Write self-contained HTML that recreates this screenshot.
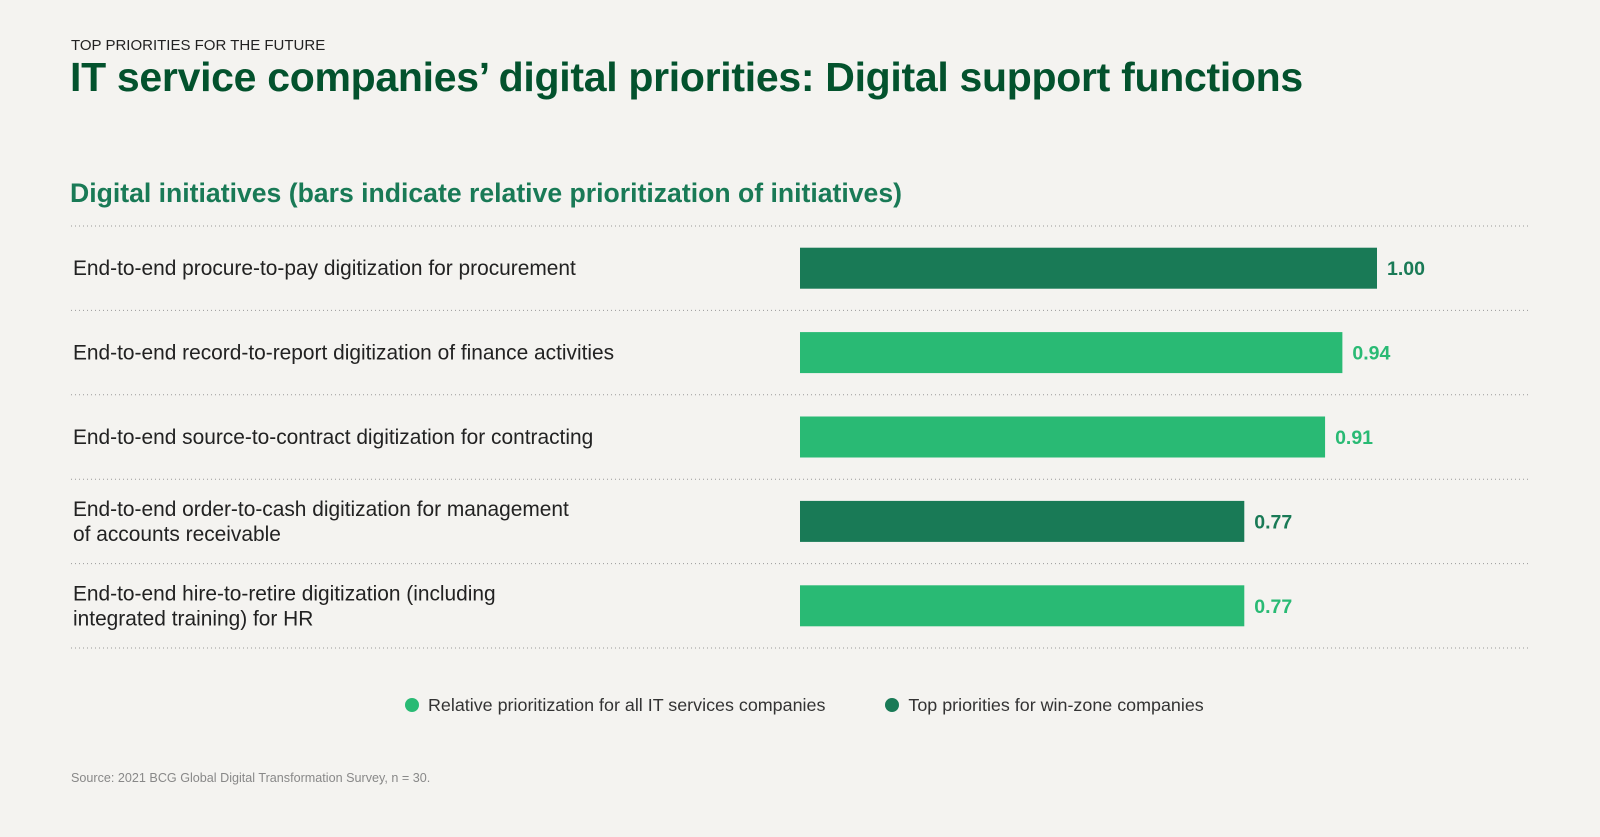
<!DOCTYPE html>
<html><head><meta charset="utf-8"><style>
body{margin:0;width:1600px;height:837px;background:#f4f3f0;font-family:"Liberation Sans",sans-serif;position:relative;overflow:hidden}
.t{position:absolute;white-space:nowrap}
</style></head><body>
<div class="t" style="left:71px;top:37px;font-size:15px;color:#222">TOP PRIORITIES FOR THE FUTURE</div>
<div class="t" style="left:70px;top:54px;font-size:41px;font-weight:bold;color:#03522d;letter-spacing:-0.3px">IT service companies’ digital priorities: Digital support functions</div>
<div class="t" style="left:70px;top:178px;font-size:26.6px;font-weight:bold;color:#197a56">Digital initiatives (bars indicate relative prioritization of initiatives)</div>
<svg id="chart" width="1600" height="837" style="position:absolute;left:0;top:0"></svg>
<div class="t" style="left:405px;top:695px;font-size:17.9px;color:#333">
<span><span style="display:inline-block;width:14px;height:14px;border-radius:50%;background:#29ba74;vertical-align:-1px;margin-right:9px"></span>Relative prioritization for all IT services companies</span>
<span style="margin-left:55px"><span style="display:inline-block;width:14px;height:14px;border-radius:50%;background:#197a56;vertical-align:-1px;margin-right:9px"></span>Top priorities for win-zone companies</span>
</div>
<div class="t" style="left:71px;top:771px;font-size:12.6px;color:#888">Source: 2021 BCG Global Digital Transformation Survey, n = 30.</div>
<script>
const categories=[["End-to-end procure-to-pay digitization for procurement"],["End-to-end record-to-report digitization of finance activities"],["End-to-end source-to-contract digitization for contracting"],["End-to-end order-to-cash digitization for management","of accounts receivable"],["End-to-end hire-to-retire digitization (including","integrated training) for HR"]];
const values=[1.00,0.94,0.91,0.77,0.77];
const winZone=[true,false,false,true,false];
const ns="http://www.w3.org/2000/svg",svg=document.getElementById("chart");
const x0=800,xScale=v=>x0+v*577,rowTop=226,rowH=84.4,barH=41;
const yc=i=>rowTop+rowH*i+rowH/2;
function mk(t,a){const e=document.createElementNS(ns,t);for(const k in a)e.setAttribute(k,a[k]);svg.appendChild(e);return e;}
for(let i=0;i<=categories.length;i++){
 const l=mk("line",{x1:71,x2:1529,y1:rowTop+rowH*i,y2:rowTop+rowH*i,stroke:"#999","stroke-width":1,"stroke-dasharray":"1 3"});
 
 
}
categories.forEach((c,i)=>{
 const col=winZone[i]?"#197a56":"#29ba74";
 const r=mk("rect",{x:x0,y:yc(i)-barH/2,width:xScale(values[i])-x0,height:barH,fill:col});
 
 
 const v=mk("text",{x:xScale(values[i])+10,y:yc(i)+7,"font-size":19.5,"font-weight":"bold",fill:col,"font-family":"Liberation Sans, sans-serif"});
 v.textContent=values[i].toFixed(2);
 
 
 const t=mk("text",{x:73,"font-size":20.9,fill:"#222","font-family":"Liberation Sans, sans-serif"});
 
 
 const n=c.length;
 c.forEach((ln,j)=>{const s=document.createElementNS(ns,"tspan");s.setAttribute("x",73);s.setAttribute("y",yc(i)+7+(j-(n-1)/2)*25);s.textContent=ln;t.appendChild(s);});
});
</script>
</body></html>
